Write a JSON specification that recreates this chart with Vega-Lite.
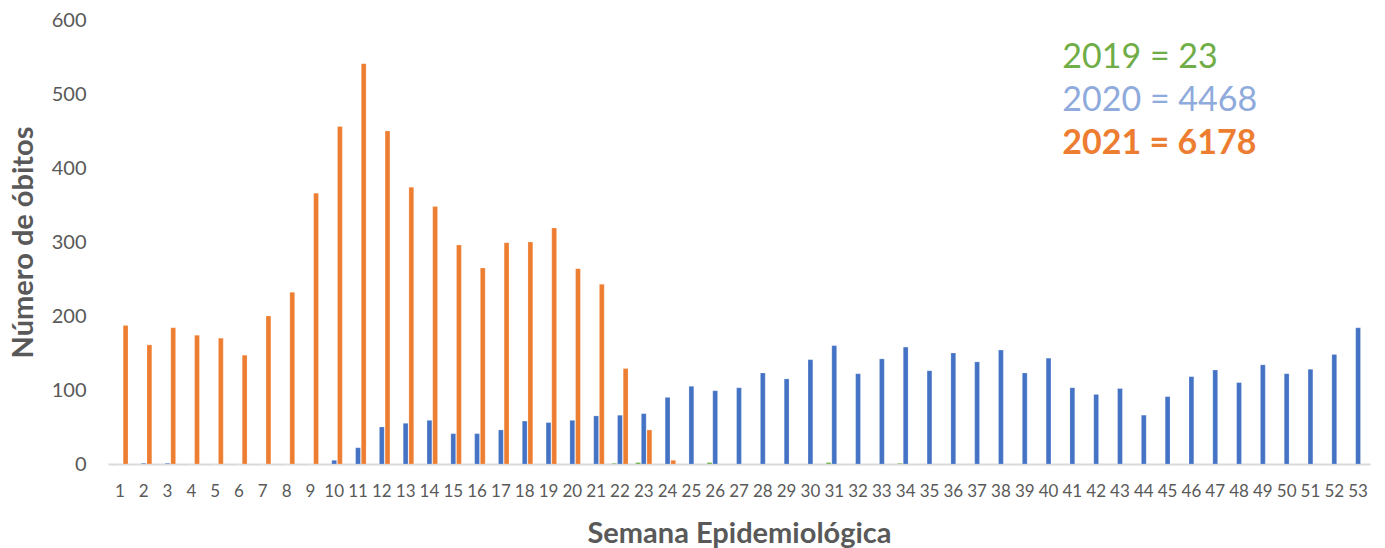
{
  "$schema": "https://vega.github.io/schema/vega-lite/v6.json",
  "width": 1262,
  "height": 444,
  "autosize": {"type": "none"},
  "padding": {"left": 108, "top": 20, "right": 15, "bottom": 84},
  "background": "white",
  "config": {"view": {"stroke": null}, "font": "Lato"},
  "datasets": {
    "bars": [
      {"week": 1, "year": "2020", "value": 0}, {"week": 1, "year": "2021", "value": 187},
      {"week": 2, "year": "2020", "value": 1}, {"week": 2, "year": "2021", "value": 161},
      {"week": 3, "year": "2020", "value": 1}, {"week": 3, "year": "2021", "value": 184},
      {"week": 4, "year": "2020", "value": 0}, {"week": 4, "year": "2021", "value": 174},
      {"week": 5, "year": "2020", "value": 0}, {"week": 5, "year": "2021", "value": 170},
      {"week": 6, "year": "2020", "value": 0}, {"week": 6, "year": "2021", "value": 147},
      {"week": 7, "year": "2020", "value": 0}, {"week": 7, "year": "2021", "value": 200},
      {"week": 8, "year": "2020", "value": 0}, {"week": 8, "year": "2021", "value": 232},
      {"week": 9, "year": "2020", "value": 0}, {"week": 9, "year": "2021", "value": 366},
      {"week": 10, "year": "2020", "value": 5}, {"week": 10, "year": "2021", "value": 456},
      {"week": 11, "year": "2020", "value": 22}, {"week": 11, "year": "2021", "value": 541},
      {"week": 12, "year": "2020", "value": 50}, {"week": 12, "year": "2021", "value": 450},
      {"week": 13, "year": "2020", "value": 55}, {"week": 13, "year": "2021", "value": 374},
      {"week": 14, "year": "2020", "value": 59}, {"week": 14, "year": "2021", "value": 348},
      {"week": 15, "year": "2020", "value": 41}, {"week": 15, "year": "2021", "value": 296},
      {"week": 16, "year": "2020", "value": 41}, {"week": 16, "year": "2021", "value": 265},
      {"week": 17, "year": "2020", "value": 46}, {"week": 17, "year": "2021", "value": 299},
      {"week": 18, "year": "2020", "value": 58}, {"week": 18, "year": "2021", "value": 300},
      {"week": 19, "year": "2020", "value": 56}, {"week": 19, "year": "2021", "value": 319},
      {"week": 20, "year": "2020", "value": 59}, {"week": 20, "year": "2021", "value": 264},
      {"week": 21, "year": "2020", "value": 65}, {"week": 21, "year": "2021", "value": 243},
      {"week": 22, "year": "2020", "value": 66}, {"week": 22, "year": "2021", "value": 129},
      {"week": 23, "year": "2020", "value": 68}, {"week": 23, "year": "2021", "value": 46},
      {"week": 24, "year": "2020", "value": 90}, {"week": 24, "year": "2021", "value": 5},
      {"week": 25, "year": "2020", "value": 105},
      {"week": 26, "year": "2020", "value": 99},
      {"week": 27, "year": "2020", "value": 103},
      {"week": 28, "year": "2020", "value": 123},
      {"week": 29, "year": "2020", "value": 115},
      {"week": 30, "year": "2020", "value": 141},
      {"week": 31, "year": "2020", "value": 160},
      {"week": 32, "year": "2020", "value": 122},
      {"week": 33, "year": "2020", "value": 142},
      {"week": 34, "year": "2020", "value": 158},
      {"week": 35, "year": "2020", "value": 126},
      {"week": 36, "year": "2020", "value": 150},
      {"week": 37, "year": "2020", "value": 138},
      {"week": 38, "year": "2020", "value": 154},
      {"week": 39, "year": "2020", "value": 123},
      {"week": 40, "year": "2020", "value": 143},
      {"week": 41, "year": "2020", "value": 103},
      {"week": 42, "year": "2020", "value": 94},
      {"week": 43, "year": "2020", "value": 102},
      {"week": 44, "year": "2020", "value": 66},
      {"week": 45, "year": "2020", "value": 91},
      {"week": 46, "year": "2020", "value": 118},
      {"week": 47, "year": "2020", "value": 127},
      {"week": 48, "year": "2020", "value": 110},
      {"week": 49, "year": "2020", "value": 134},
      {"week": 50, "year": "2020", "value": 122},
      {"week": 51, "year": "2020", "value": 128},
      {"week": 52, "year": "2020", "value": 148},
      {"week": 53, "year": "2020", "value": 184},
      {"week": 2, "year": "2019", "value": 0},
      {"week": 22, "year": "2019", "value": 1},
      {"week": 23, "year": "2019", "value": 2},
      {"week": 26, "year": "2019", "value": 2},
      {"week": 31, "year": "2019", "value": 2},
      {"week": 34, "year": "2019", "value": 1}
    ],
    "labels": [
      {"week": 41, "value": 549, "text": "2019 = 23", "year": "2019"},
      {"week": 41, "value": 490, "text": "2020 = 4468", "year": "2020"},
      {"week": 41, "value": 432, "text": "2021 = 6178", "year": "2021"}
    ]
  },
  "layer": [
    {
      "data": {"name": "bars"},
      "mark": {"type": "bar", "stroke": "white", "strokeOpacity": 0.35, "strokeWidth": 0.6},
      "encoding": {
        "x": {
          "field": "week", "type": "ordinal",
          "scale": {"paddingInner": 0.32, "paddingOuter": 0.16},
          "axis": {
            "title": "Semana Epidemiológica",
            "titleFontSize": 29, "titleFontWeight": "bold", "titleColor": "#595959",
            "titlePadding": 20,
            "labelAngle": 0, "labelFontSize": 17, "labelColor": "#595959", "labelPadding": 19,
            "ticks": false, "domainColor": "#D9D9D9", "domainWidth": 2,
            "labelOverlap": false
          }
        },
        "xOffset": {"field": "year", "type": "nominal", "sort": ["2019", "2020", "2021"], "scale": {"domain": ["2019", "2020", "2021"], "paddingInner": 0.15}},
        "y": {
          "field": "value", "type": "quantitative",
          "scale": {"domain": [0, 600]},
          "axis": {
            "title": "Número de óbitos",
            "titleFontSize": 29, "titleFontWeight": "bold", "titleColor": "#595959",
            "titlePadding": 13,
            "values": [0, 100, 200, 300, 400, 500, 600],
            "labelFontSize": 20, "labelColor": "#595959", "labelPadding": 22,
            "grid": false, "ticks": false, "domain": false
          }
        },
        "color": {
          "field": "year", "type": "nominal",
          "scale": {"domain": ["2019", "2020", "2021"], "range": ["#70AD47", "#4472C4", "#ED7D31"]},
          "legend": null
        }
      }
    },
    {
      "data": {"name": "labels"},
      "transform": [{"filter": "datum.year !== '2021'"}],
      "mark": {"type": "text", "align": "left", "baseline": "middle", "fontSize": 34, "dx": -10},
      "encoding": {
        "x": {"field": "week", "type": "ordinal"},
        "y": {"field": "value", "type": "quantitative"},
        "text": {"field": "text"},
        "color": {
          "field": "year", "type": "nominal",
          "scale": {"domain": ["2019", "2020", "2021"], "range": ["#70AD47", "#8FAADC", "#ED7D31"]},
          "legend": null
        }
      }
    },
    {
      "data": {"name": "labels"},
      "transform": [{"filter": "datum.year === '2021'"}],
      "mark": {"type": "text", "align": "left", "baseline": "middle", "fontSize": 34, "fontWeight": "bold", "dx": -10},
      "encoding": {
        "x": {"field": "week", "type": "ordinal"},
        "y": {"field": "value", "type": "quantitative"},
        "text": {"field": "text"},
        "color": {
          "field": "year", "type": "nominal",
          "scale": {"domain": ["2019", "2020", "2021"], "range": ["#70AD47", "#8FAADC", "#ED7D31"]},
          "legend": null
        }
      }
    }
  ],
  "resolve": {"scale": {"color": "independent"}}
}
